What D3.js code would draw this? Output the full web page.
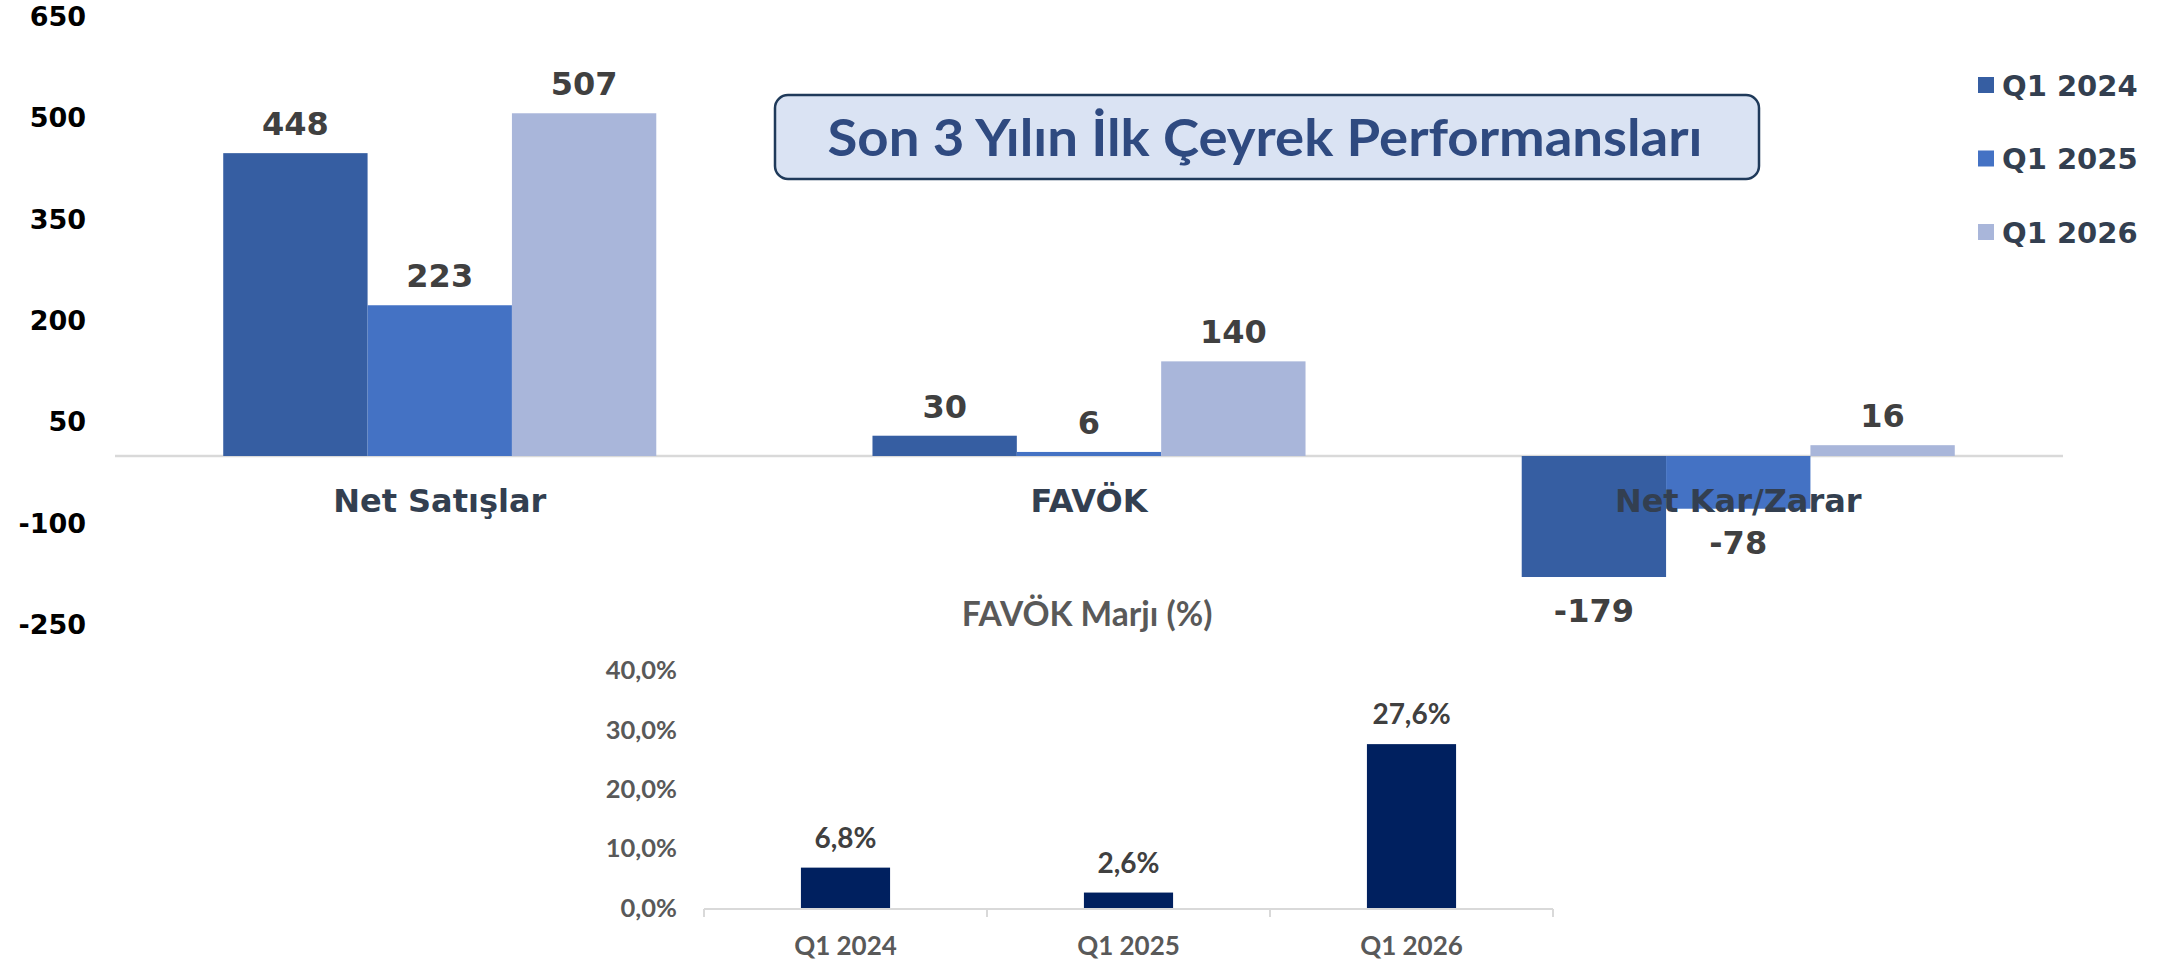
<!DOCTYPE html>
<html>
<head>
<meta charset="utf-8">
<script src="https://cdn.jsdelivr.net/npm/d3@7"></script>
<style>
  html, body { margin: 0; padding: 0; background: #ffffff; }
  svg { display: block; }
</style>
</head>
<body>
<svg id="chart" width="2167" height="960"></svg>
<script>
// ---- data ----
const categories = ["Net Satışlar", "FAVÖK", "Net Kar/Zarar"];
const seriesNames = ["Q1 2024", "Q1 2025", "Q1 2026"];
const q1_2024 = [448, 30, -179];
const q1_2025 = [223, 6, -78];
const q1_2026 = [507, 140, 16];
const yTicks = [-250, -100, 50, 200, 350, 500, 650];

const marginPeriods = ["Q1 2024", "Q1 2025", "Q1 2026"];
const favokMargin = [6.8, 2.6, 27.6];
const marginTicks = [0, 10, 20, 30, 40];

const titleText = "Son 3 Yılın İlk Çeyrek Performansları";
const marginTitle = "FAVÖK Marjı (%)";

// ---- styles ----
const seriesColors = ["#365EA2", "#4472C4", "#A9B6DA"];
const verdanaLike = "'DejaVu Sans', Verdana, sans-serif";
const calibriLike = "Lato, 'Open Sans', sans-serif";

const svg = d3.select("#chart");
const series = [q1_2024, q1_2025, q1_2026];

// ---- main grouped bar chart ----
const x0 = d3.scaleBand().domain(categories).range([115, 2063])
  .paddingInner(0.333).paddingOuter(0.1667);
const x1 = d3.scaleBand().domain(seriesNames).range([0, x0.bandwidth()]);
const y = d3.scaleLinear().domain([-250, 650]).range([625, 16.6]);

// value axis labels only
const yAxis = d3.axisLeft(y).tickValues(yTicks).tickSize(0).tickPadding(0)
  .tickFormat(d3.format("d"));
const yg = svg.append("g").attr("transform", "translate(86,0)").call(yAxis);
yg.select(".domain").remove();
yg.selectAll("text")
  .attr("font-family", verdanaLike).attr("font-weight", "bold")
  .attr("font-size", 27).attr("fill", "#000000")
  .text(d => d < 0 ? "-" + Math.abs(d) : d);

// zero baseline
svg.append("line")
  .attr("x1", 115).attr("x2", 2063)
  .attr("y1", y(0)).attr("y2", y(0))
  .attr("stroke", "#D9D9D9").attr("stroke-width", 2.5);

const rows = [];
categories.forEach((c, i) => {
  seriesNames.forEach((s, j) => rows.push({ cat: c, ser: s, j, value: series[j][i] }));
});

svg.append("g").selectAll("rect").data(rows).join("rect")
  .attr("x", d => x0(d.cat) + x1(d.ser))
  .attr("width", x1.bandwidth())
  .attr("y", d => y(Math.max(0, d.value)))
  .attr("height", d => Math.abs(y(d.value) - y(0)))
  .attr("fill", d => seriesColors[d.j]);

// category labels (drawn over bars)
svg.append("g").selectAll("text").data(categories).join("text")
  .attr("x", d => x0(d) + x0.bandwidth() / 2)
  .attr("y", 512)
  .attr("text-anchor", "middle")
  .attr("font-family", verdanaLike).attr("font-weight", "bold")
  .attr("font-size", 32).attr("fill", "#333F50")
  .text(d => d);

// value labels
svg.append("g").selectAll("text").data(rows).join("text")
  .attr("x", d => x0(d.cat) + x1(d.ser) + x1.bandwidth() / 2)
  .attr("y", d => d.value >= 0 ? y(d.value) - 18 : y(d.value) + 45)
  .attr("text-anchor", "middle")
  .attr("font-family", verdanaLike).attr("font-weight", "bold")
  .attr("font-size", 32).attr("fill", "#404040")
  .text(d => d.value);

// legend
const legend = svg.append("g").selectAll("g").data(seriesNames).join("g")
  .attr("transform", (d, i) => `translate(1978,${85 + i * 73.5})`);
legend.append("rect")
  .attr("x", 0).attr("y", -8).attr("width", 16).attr("height", 16)
  .attr("fill", (d, i) => seriesColors[i]);
legend.append("text")
  .attr("x", 24).attr("y", 10.5)
  .attr("font-family", verdanaLike).attr("font-weight", "bold")
  .attr("font-size", 29).attr("fill", "#333F50")
  .text(d => d);

// title box
const titleG = svg.append("g");
titleG.append("rect")
  .attr("x", 775).attr("y", 95).attr("width", 984).attr("height", 84)
  .attr("rx", 13).attr("ry", 13)
  .attr("fill", "#DAE3F3").attr("stroke", "#1F3A5A").attr("stroke-width", 2.5);
titleG.append("text")
  .attr("x", 1265).attr("y", 156)
  .attr("text-anchor", "middle")
  .attr("font-family", calibriLike).attr("font-weight", "bold")
  .attr("font-size", 52).attr("fill", "#2F4A80")
  .attr("textLength", 875).attr("lengthAdjust", "spacingAndGlyphs")
  .text(titleText);

// ---- FAVÖK margin chart ----
const mx = d3.scaleBand().domain(marginPeriods).range([704, 1553])
  .paddingInner(0.685).paddingOuter(0.3425);
const my = d3.scaleLinear().domain([0, 40]).range([908, 670.5]);

svg.append("text")
  .attr("x", 1087).attr("y", 626)
  .attr("text-anchor", "middle")
  .attr("font-family", calibriLike).attr("font-weight", "bold")
  .attr("font-size", 33.5).attr("fill", "#595959")
  .text(marginTitle);

const fmtPct = v => v.toFixed(1).replace(".", ",") + "%";

const myAxis = d3.axisLeft(my).tickValues(marginTicks).tickSize(0).tickPadding(0)
  .tickFormat(fmtPct);
const myg = svg.append("g").attr("transform", "translate(677,0)").call(myAxis);
myg.select(".domain").remove();
myg.selectAll("text")
  .attr("font-family", calibriLike).attr("font-weight", "bold")
  .attr("font-size", 25.5).attr("fill", "#595959");

svg.append("g").selectAll("rect").data(favokMargin).join("rect")
  .attr("x", (d, i) => mx(marginPeriods[i]))
  .attr("width", mx.bandwidth())
  .attr("y", d => my(d))
  .attr("height", d => my(0) - my(d))
  .attr("fill", "#00205F");

// category axis: baseline with separators between periods
svg.append("line")
  .attr("x1", mx.range()[0]).attr("x2", mx.range()[1])
  .attr("y1", my(0) + 1).attr("y2", my(0) + 1)
  .attr("stroke", "#D9D9D9").attr("stroke-width", 2);
const seps = d3.range(marginPeriods.length + 1).map(i => mx.range()[0] + i * mx.step());
svg.append("g").selectAll("line").data(seps).join("line")
  .attr("x1", d => d).attr("x2", d => d)
  .attr("y1", my(0) + 1).attr("y2", my(0) + 9)
  .attr("stroke", "#D9D9D9").attr("stroke-width", 2);

svg.append("g").selectAll("text").data(marginPeriods).join("text")
  .attr("x", d => mx(d) + mx.bandwidth() / 2)
  .attr("y", 955)
  .attr("text-anchor", "middle")
  .attr("font-family", calibriLike).attr("font-weight", "bold")
  .attr("font-size", 26).attr("fill", "#595959")
  .text(d => d);

svg.append("g").selectAll("text").data(favokMargin).join("text")
  .attr("x", (d, i) => mx(marginPeriods[i]) + mx.bandwidth() / 2)
  .attr("y", d => my(d) - 20)
  .attr("text-anchor", "middle")
  .attr("font-family", calibriLike).attr("font-weight", "bold")
  .attr("font-size", 28).attr("fill", "#404040")
  .text(fmtPct);
</script>
</body>
</html>
